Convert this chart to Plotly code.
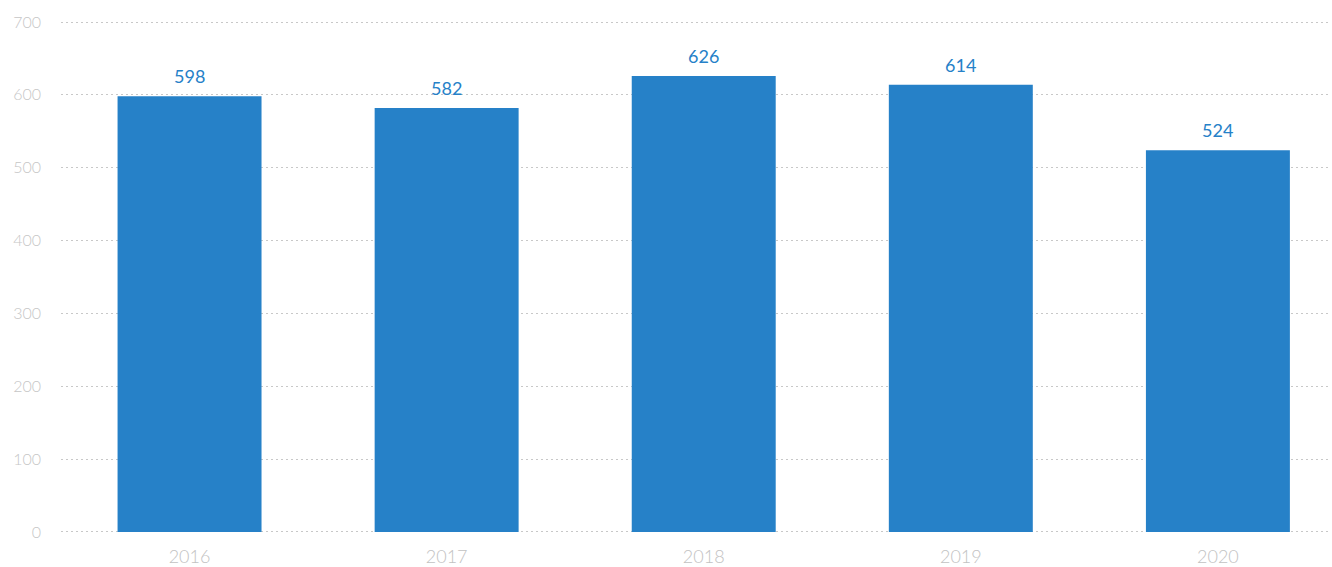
import plotly.graph_objects as go

years = ["2016", "2017", "2018", "2019", "2020"]
values = [598, 582, 626, 614, 524]
y_ticks = [0, 100, 200, 300, 400, 500, 600, 700]

BAR_BLUE = "#2681c8"

fig = go.Figure(
    go.Bar(
        x=years,
        y=values,
        marker=dict(color=BAR_BLUE, line=dict(width=0)),
        width=0.56,
        hoverinfo="x+y",
    )
)

# value labels floating above each bar (category axis -> use serial index)
for i, v in enumerate(values):
    fig.add_annotation(
        x=i,
        y=v,
        xref="x",
        yref="y",
        text=str(v),
        showarrow=False,
        yanchor="middle",
        yshift=20,
        font=dict(family="Lato", size=18, color=BAR_BLUE),
    )

fig.update_layout(
    width=1332,
    height=567,
    margin=dict(l=61, r=2, t=21, b=34),
    paper_bgcolor="white",
    plot_bgcolor="white",
    showlegend=False,
    font=dict(family="Lato", color="#c0c0c0", size=15),
    xaxis=dict(
        type="category",
        range=[-0.5, 4.436],
        automargin=False,
        showgrid=False,
        showline=False,
        ticks="",
        ticklabelstandoff=11,
        tickfont=dict(family="Lato", size=18, color="#c2c2c2", weight=300),
    ),
    yaxis=dict(
        range=[-1.4, 701.4],
        automargin=False,
        tickvals=y_ticks,
        showgrid=True,
        gridcolor="#c8c8c8",
        griddash="2px,3px",
        gridwidth=1,
        zeroline=False,
        showline=False,
        ticks="",
        ticklabelstandoff=19,
        tickfont=dict(family="Lato", size=16, color="#c6c6c6", weight=300),
    ),
)

fig.write_html("out.html")
